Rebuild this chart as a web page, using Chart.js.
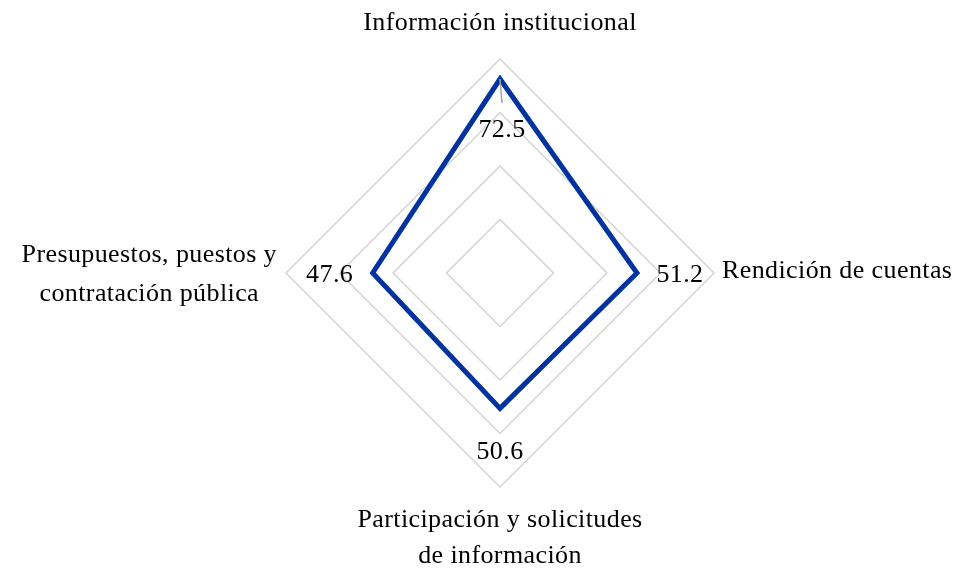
<!DOCTYPE html>
<html>
<head>
<meta charset="utf-8">
<script src="https://cdn.jsdelivr.net/npm/chart.js@4"></script>
<style>
  html, body { margin: 0; padding: 0; background: #fff; }
  #wrap { width: 961px; height: 569px; position: relative; }
</style>
</head>
<body>
<div id="wrap"><canvas id="radar"></canvas></div>
<script>
// Chart data
const categories = [
  ['Información institucional'],
  ['Rendición de cuentas'],
  ['Participación y solicitudes', 'de información'],
  ['Presupuestos, puestos y', 'contratación pública']
];
const values = [72.5, 51.2, 50.6, 47.6];
const scaleMax = 80;
const scaleStep = 20;

const FONT = '26px "Liberation Serif", "DejaVu Serif", serif';

// Labels drawn by hand so they sit where the original puts them
const labelPlugin = {
  id: 'radarLabels',
  afterDatasetsDraw(chart) {
    const r = chart.scales.r;
    const ctx = chart.ctx;
    const outer = r.drawingArea;
    ctx.save();
    ctx.font = FONT;
    ctx.letterSpacing = '0.4px';
    ctx.fillStyle = '#000';
    ctx.textBaseline = 'alphabetic';

    // value labels
    values.forEach((v, i) => {
      const p = r.getPointPosition(i, r.getDistanceFromCenterForValue(v));
      let x = p.x, y = p.y;
      if (i === 0) {
        // leader line + label inside the shape
        ctx.strokeStyle = '#a6a6a6';
        ctx.lineWidth = 1.5;
        ctx.beginPath();
        ctx.moveTo(p.x, p.y);
        ctx.lineTo(p.x + 2, p.y + 24);
        ctx.stroke();
        x += 2; y += 58;
      } else if (i === 1) { x += 43; y += 9; }
      else if (i === 2) { y += 51; }
      else { x -= 43; y += 9; }
      ctx.textAlign = 'center';
      ctx.fillText(v.toFixed(1), x, y);
    });

    // axis labels
    categories.forEach((lines, i) => {
      const p = r.getPointPosition(i, outer);
      if (i === 0) {
        ctx.textAlign = 'center';
        ctx.fillText(lines[0], p.x, p.y - 29);
      } else if (i === 1) {
        ctx.textAlign = 'left';
        ctx.fillText(lines[0], p.x + 8, p.y + 5);
      } else if (i === 2) {
        ctx.textAlign = 'center';
        lines.forEach((t, k) => ctx.fillText(t, p.x, p.y + 40 + k * 36));
      } else {
        const maxW = Math.max(...lines.map(t => ctx.measureText(t).width));
        const cx = p.x - 9 - maxW / 2;
        ctx.textAlign = 'center';
        lines.forEach((t, k) => ctx.fillText(t, cx, p.y - 11 + k * 39));
      }
    });
    ctx.restore();
  }
};

new Chart(document.getElementById('radar'), {
  type: 'radar',
  data: {
    labels: categories,
    datasets: [{
      data: values,
      borderColor: '#0033a0',
      borderWidth: 5,
      borderJoinStyle: 'miter',
      fill: false,
      pointRadius: 0,
      pointHoverRadius: 0,
      tension: 0
    }]
  },
  options: {
    responsive: true,
    maintainAspectRatio: false,
    animation: false,
    layout: { padding: { top: 59, bottom: 82, left: 39, right: 0 } },
    plugins: {
      legend: { display: false },
      tooltip: { enabled: false }
    },
    scales: {
      r: {
        min: 0,
        max: scaleMax,
        ticks: { display: false, stepSize: scaleStep },
        grid: { color: '#d4d4d4', lineWidth: 1.5 },
        angleLines: { display: false },
        pointLabels: { display: false }
      }
    }
  },
  plugins: [labelPlugin]
});
</script>
</body>
</html>
